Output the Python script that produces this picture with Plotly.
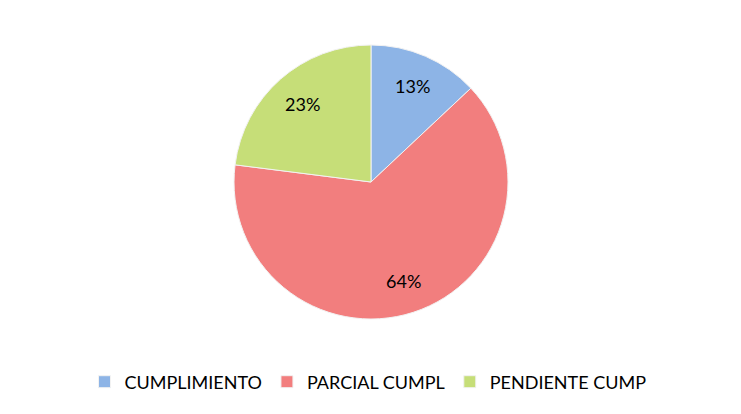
import math
import plotly.graph_objects as go

# Datos del gráfico
categorias = ["CUMPLIMIENTO", "PARCIAL CUMPL", "PENDIENTE CUMP"]
porcentajes = [13, 64, 23]
colores = ["#8DB4E6", "#F27E7E", "#C6DE78"]

# Geometría del pastel (en píxeles, la página añade 8px de margen al body)
W, H = 741, 414
cx, cy, R = 363, 174, 137

fig = go.Figure()

fig.add_trace(
    go.Pie(
        labels=categorias,
        values=porcentajes,
        sort=False,
        direction="clockwise",
        rotation=0,
        marker=dict(colors=colores, line=dict(color="#F2F2F2", width=1)),
        textinfo="none",
        domain=dict(x=[(cx - R) / W, (cx + R) / W], y=[1 - (cy + R) / H, 1 - (cy - R) / H]),
        hoverinfo="label+percent",
    )
)

# Etiquetas de porcentaje a ~0.76 del radio, en el ángulo medio de cada porción
total = sum(porcentajes)
acumulado = 0
for v in porcentajes:
    ang = 2 * math.pi * (acumulado + v / 2) / total
    acumulado += v
    r = 0.76 * R
    fig.add_annotation(
        x=(cx + r * math.sin(ang)) / W,
        y=1 - (cy - r * math.cos(ang)) / H,
        xref="paper",
        yref="paper",
        xanchor="center",
        yanchor="middle",
        text=f"{v}%",
        showarrow=False,
        font=dict(family="Lato, Open Sans, sans-serif", size=18, color="#000000"),
    )

fig.update_layout(
    width=W,
    height=H,
    margin=dict(l=0, r=0, t=0, b=0),
    paper_bgcolor="white",
    plot_bgcolor="white",
    font=dict(family="Lato, Open Sans, sans-serif", size=18, color="#000000"),
    showlegend=True,
    legend=dict(
        orientation="h",
        x=(368 - 8) / W,
        xanchor="center",
        y=1 - (382 - 8) / H,
        yanchor="middle",
        font=dict(size=18),
        itemwidth=30,
        traceorder="normal",
    ),
)

fig.write_html("out.html")
